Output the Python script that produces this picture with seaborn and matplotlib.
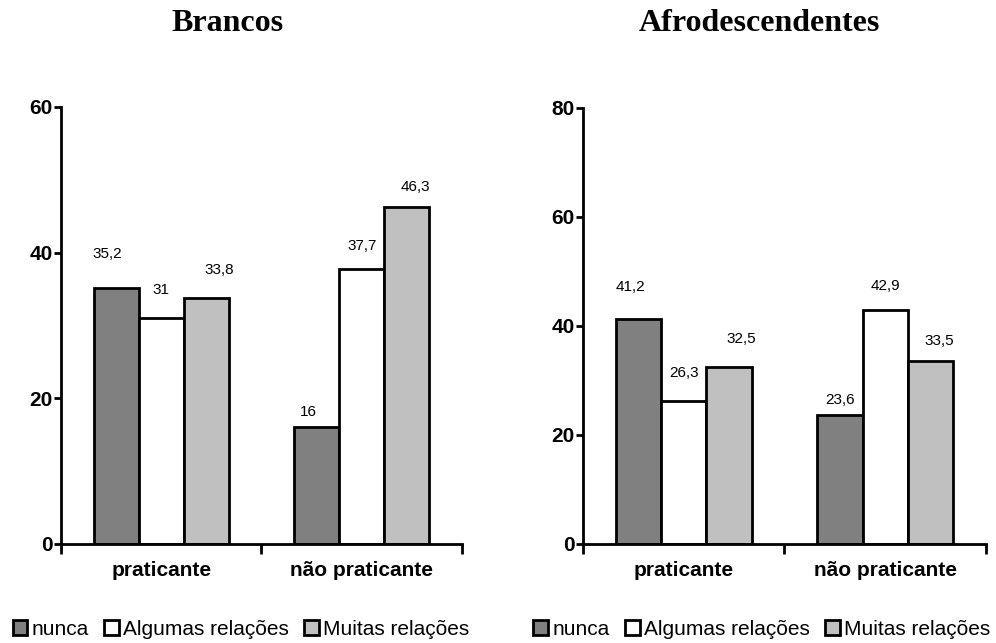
import pandas as pd
import matplotlib.pyplot as plt
import seaborn as sns
from matplotlib.patches import Patch

# data
groups = ["praticante", "não praticante"]
series = ["nunca", "Algumas relações", "Muitas relações"]
brancos_nunca = [35.2, 16]
brancos_algumas = [31, 37.7]
brancos_muitas = [33.8, 46.3]
afro_nunca = [41.2, 23.6]
afro_algumas = [26.3, 42.9]
afro_muitas = [32.5, 33.5]
titles = ["Brancos", "Afrodescendentes"]
ymax = [60, 80]

colors = ["#808080", "#ffffff", "#c0c0c0"]
# label offsets in points (dx, dy) per series, per group
offs_brancos = [[(-6, 19), (-6, 6)], [(0, 15), (0, 12)], [(9, 15), (6, 9)]]
offs_afro = [[(-6, 18), (0, 6)], [(0, 15), (0, 12)], [(9, 15), (6, 10)]]

sns.set_style("white")
plt.rcParams["font.family"] = ["Liberation Sans", "DejaVu Sans"]
plt.rcParams["text.color"] = "black"
plt.rcParams["xtick.color"] = "black"
plt.rcParams["ytick.color"] = "black"

fig = plt.figure(figsize=(9.96, 6.43), dpi=100)
axes = [fig.add_axes([0.0612, 0.154, 0.4026, 0.6796]),
        fig.add_axes([0.5853, 0.154, 0.4046, 0.6781])]


def draw(ax, vals, top, offs, lx):
    df = pd.DataFrame({
        "grupo": groups * 3,
        "serie": [s for s in series for _ in groups],
        "valor": vals[0] + vals[1] + vals[2],
    })
    sns.barplot(data=df, x="grupo", y="valor", hue="serie", order=groups,
                hue_order=series, palette=colors, width=0.675, gap=0,
                edgecolor="black", linewidth=2, saturation=1, ax=ax,
                legend=False)
    for i, cont in enumerate(ax.containers):
        for j, bar in enumerate(cont):
            v = bar.get_height()
            ax.annotate(f"{v:g}".replace(".", ","),
                        (bar.get_x() + bar.get_width() / 2, v),
                        xytext=offs[i][j], textcoords="offset points",
                        ha="center", va="bottom", fontsize=11)
    ax.set_ylim(0, top)
    ax.set_xlim(-0.5, 1.5)
    ax.set_yticks(range(0, top + 1, 20))
    ax.set_xticks([0, 1])
    ax.set_xticklabels(groups, fontweight="bold", fontsize=15)
    ax.set_xticks([-0.5, 0.5, 1.5], minor=True)
    ax.tick_params(axis="x", which="major", length=0, pad=12)
    ax.tick_params(axis="x", which="minor", length=7, width=2, direction="out", bottom=True)
    ax.tick_params(axis="y", length=5, width=2, direction="out", left=True,
                   labelsize=15, pad=1)
    for lab in ax.get_yticklabels():
        lab.set_fontweight("bold")
    ax.set_xlabel("")
    ax.set_ylabel("")
    sns.despine(ax=ax)
    for sp in ["left", "bottom"]:
        ax.spines[sp].set_linewidth(2)
        ax.spines[sp].set_color("black")
    handles = [Patch(facecolor=c, edgecolor="black", linewidth=2, label=s)
               for c, s in zip(colors, series)]
    ax.legend(handles=handles, loc="center", bbox_to_anchor=(lx, -0.195),
              ncol=3, frameon=False, fontsize=15, handlelength=0.7,
              handleheight=0.7, handletextpad=0.2, columnspacing=0.75,
              borderaxespad=0, borderpad=0)


draw(axes[0], [brancos_nunca, brancos_algumas, brancos_muitas], ymax[0], offs_brancos, 0.449)
draw(axes[1], [afro_nunca, afro_algumas, afro_muitas], ymax[1], offs_afro, 0.444)

fig.text(228 / 996, 0.963, titles[0], ha="center", va="center", fontsize=23,
         fontweight="bold", family="Liberation Serif")
fig.text(759 / 996, 0.963, titles[1], ha="center", va="center", fontsize=23,
         fontweight="bold", family="Liberation Serif")

plt.savefig("out.png", dpi=100)
